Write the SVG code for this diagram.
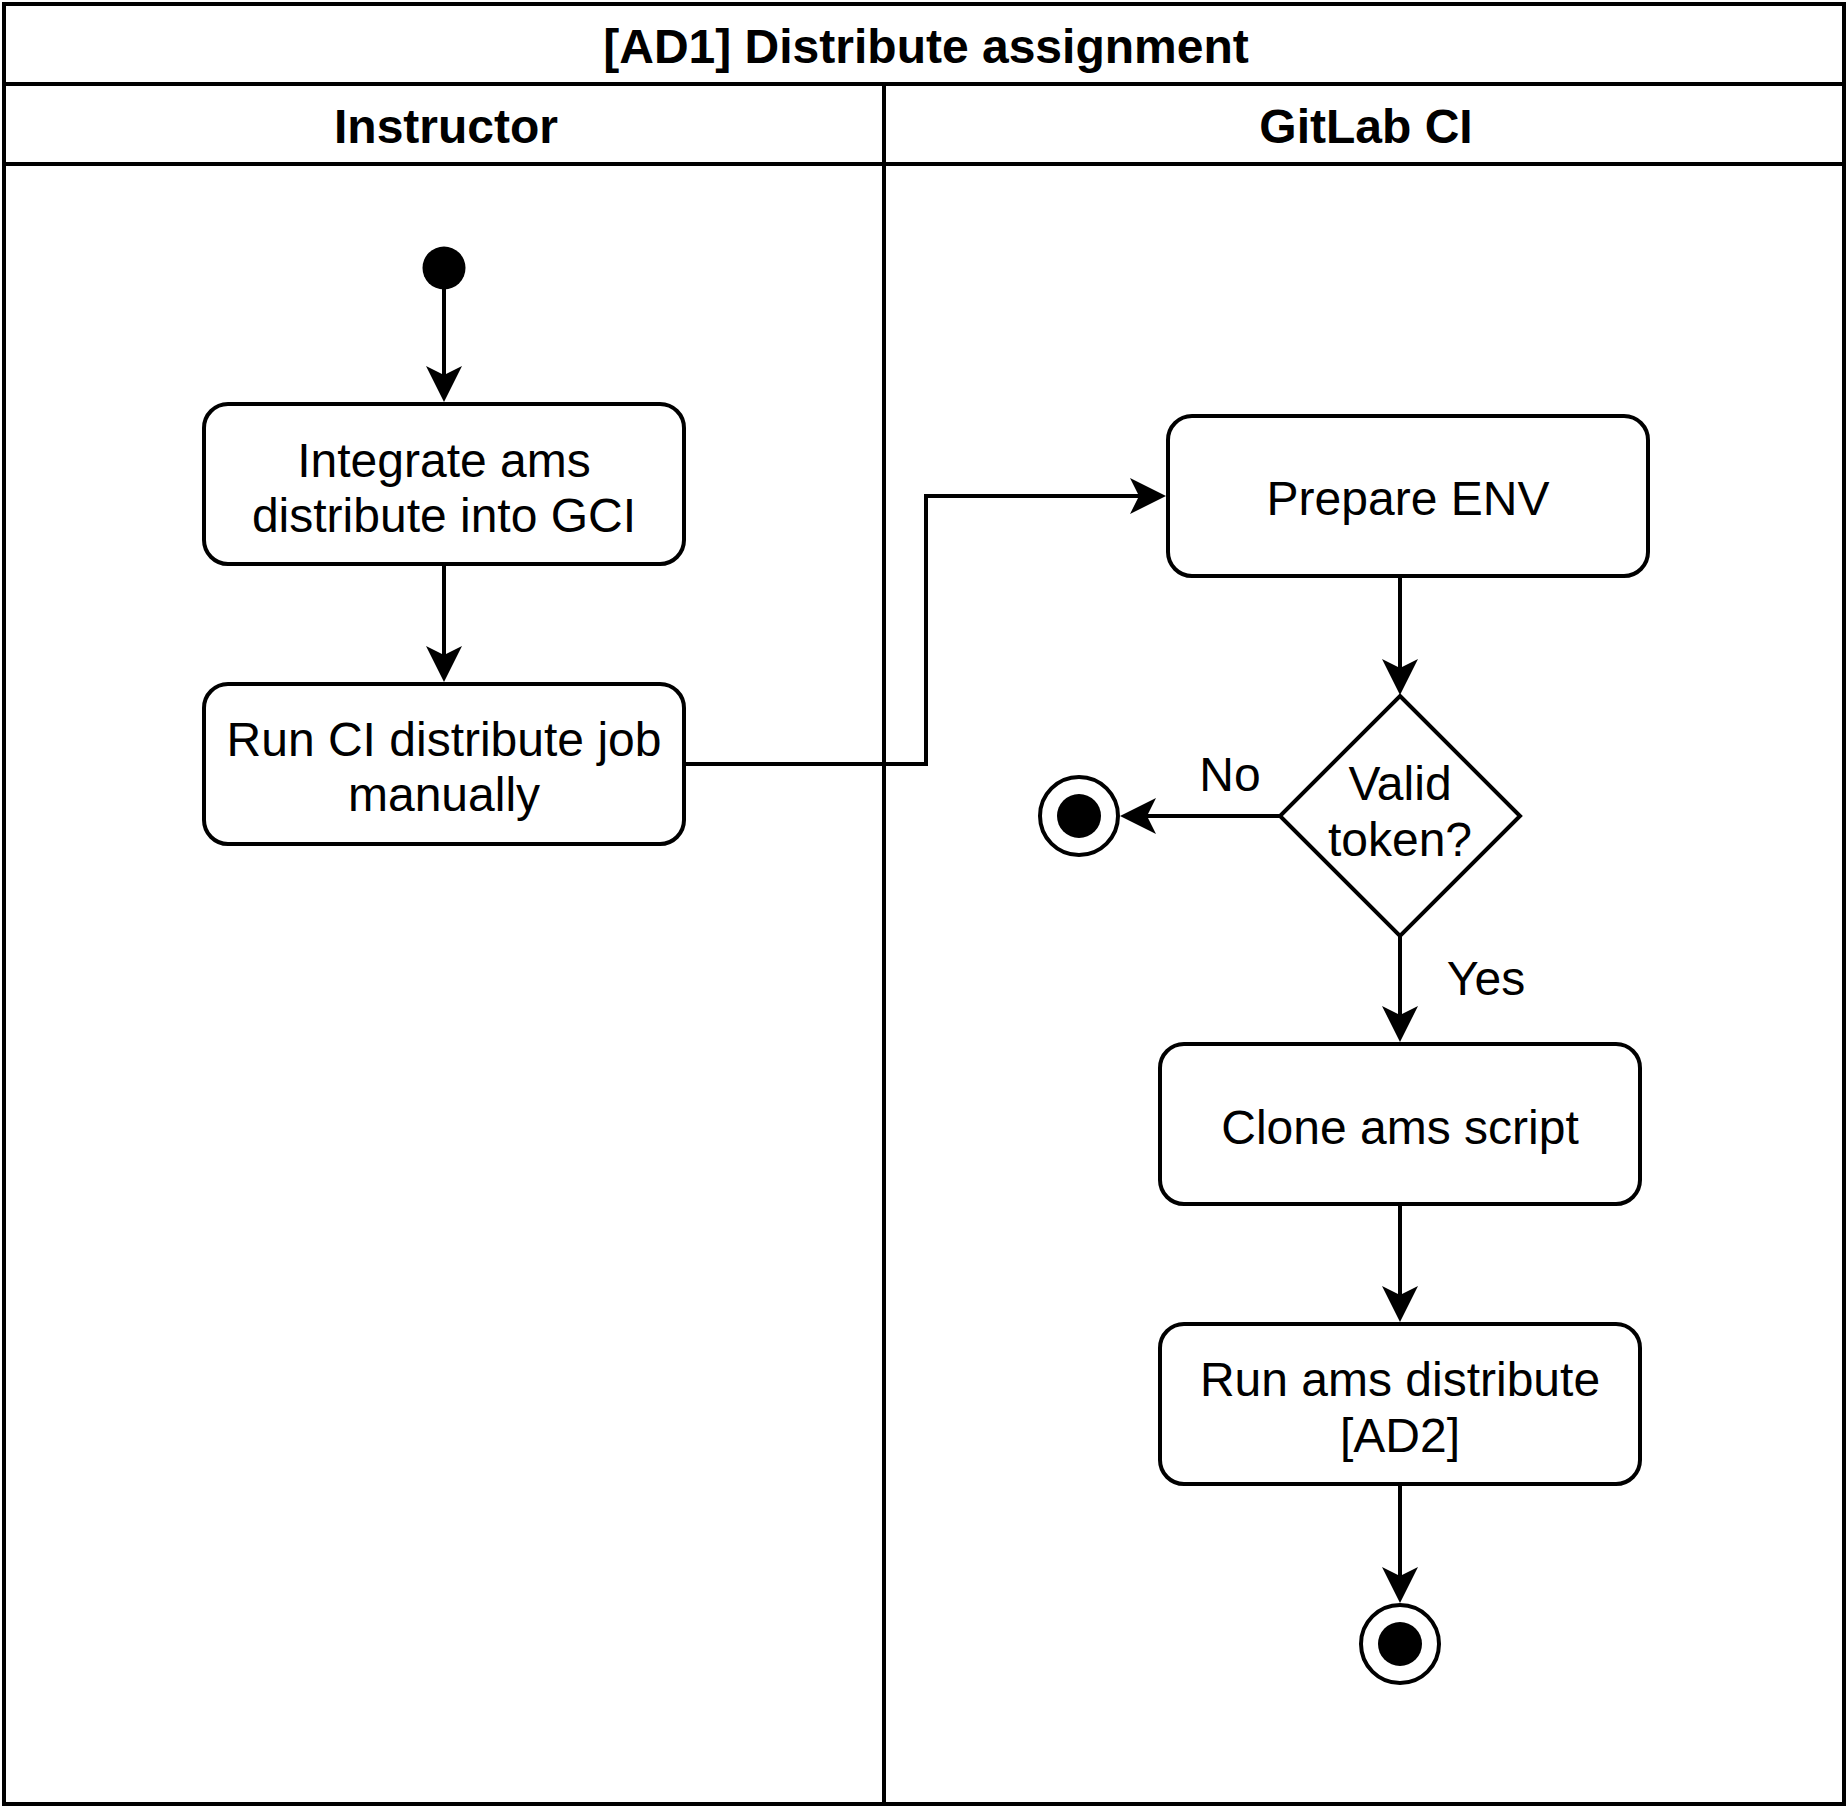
<svg xmlns="http://www.w3.org/2000/svg" width="1847" height="1806" viewBox="0 0 1847 1806">
<style>
.ln{fill:none;stroke:#000;stroke-width:4}
.nd{fill:#fff;stroke:#000;stroke-width:4}
.t{font-family:"Liberation Sans",Arial,Helvetica,sans-serif;font-size:48px;fill:#000;text-anchor:middle}
.b{font-weight:bold}
.conn{fill:none;stroke:#000;stroke-width:4;marker-end:url(#arr)}
</style>
<defs>
<marker id="arr" markerUnits="userSpaceOnUse" markerWidth="40" markerHeight="40" viewBox="-38 -20 40 40" refX="-27" refY="0" orient="auto" overflow="visible">
<path d="M0,0 L-36,-18 L-27,0 L-36,18 Z" fill="#000"/>
</marker>
</defs>
<rect width="1847" height="1806" fill="#fff"/>
<g id="pool">
<rect class="ln" x="4" y="4" width="1840" height="1800"/>
<line class="ln" x1="4" y1="84" x2="1844" y2="84"/>
<line class="ln" x1="4" y1="164" x2="1844" y2="164"/>
<line class="ln" x1="884" y1="84" x2="884" y2="1804"/>
<text class="t b" x="926" y="63">[AD1] Distribute assignment</text>
</g>
<g id="lane-instructor">
<text class="t b" x="446" y="143">Instructor</text>
</g>
<g id="lane-gitlab">
<text class="t b" x="1366" y="143">GitLab CI</text>
</g>
<g id="start">
<circle cx="444" cy="268" r="21.5" fill="#000"/>
</g>
<g id="integrate">
<rect class="nd" x="204" y="404" width="480" height="160" rx="24" ry="24"/>
<text class="t" x="444" y="477">Integrate ams</text>
<text class="t" x="444" y="532">distribute into GCI</text>
</g>
<g id="runjob">
<rect class="nd" x="204" y="684" width="480" height="160" rx="24" ry="24"/>
<text class="t" x="444" y="756">Run CI distribute job</text>
<text class="t" x="444" y="811">manually</text>
</g>
<g id="prepare">
<rect class="nd" x="1168" y="416" width="480" height="160" rx="24" ry="24"/>
<text class="t" x="1408" y="515">Prepare ENV</text>
</g>
<g id="decision">
<polygon class="nd" points="1400,696 1520,816 1400,936 1280,816"/>
<text class="t" x="1400" y="800">Valid</text>
<text class="t" x="1400" y="856">token?</text>
</g>
<g id="end-no">
<circle class="nd" cx="1079" cy="816" r="39"/>
<circle cx="1079" cy="816" r="22" fill="#000"/>
</g>
<g id="clone">
<rect class="nd" x="1160" y="1044" width="480" height="160" rx="24" ry="24"/>
<text class="t" x="1400" y="1144">Clone ams script</text>
</g>
<g id="runams">
<rect class="nd" x="1160" y="1324" width="480" height="160" rx="24" ry="24"/>
<text class="t" x="1400" y="1396">Run ams distribute</text>
<text class="t" x="1400" y="1452">[AD2]</text>
</g>
<g id="end-final">
<circle class="nd" cx="1400" cy="1644" r="39"/>
<circle cx="1400" cy="1644" r="22" fill="#000"/>
</g>
<g id="connectors">
<path class="conn" d="M444,289 V375"/>
<path class="conn" d="M444,564 V655"/>
<path class="conn" d="M684,764 H926 V496 H1139"/>
<path class="conn" d="M1400,576 V668"/>
<path class="conn" d="M1280,816 H1147"/>
<path class="conn" d="M1400,936 V1015"/>
<path class="conn" d="M1400,1204 V1295"/>
<path class="conn" d="M1400,1484 V1576"/>
<text class="t" x="1230" y="791">No</text>
<text class="t" x="1486" y="995">Yes</text>
</g>
</svg>
